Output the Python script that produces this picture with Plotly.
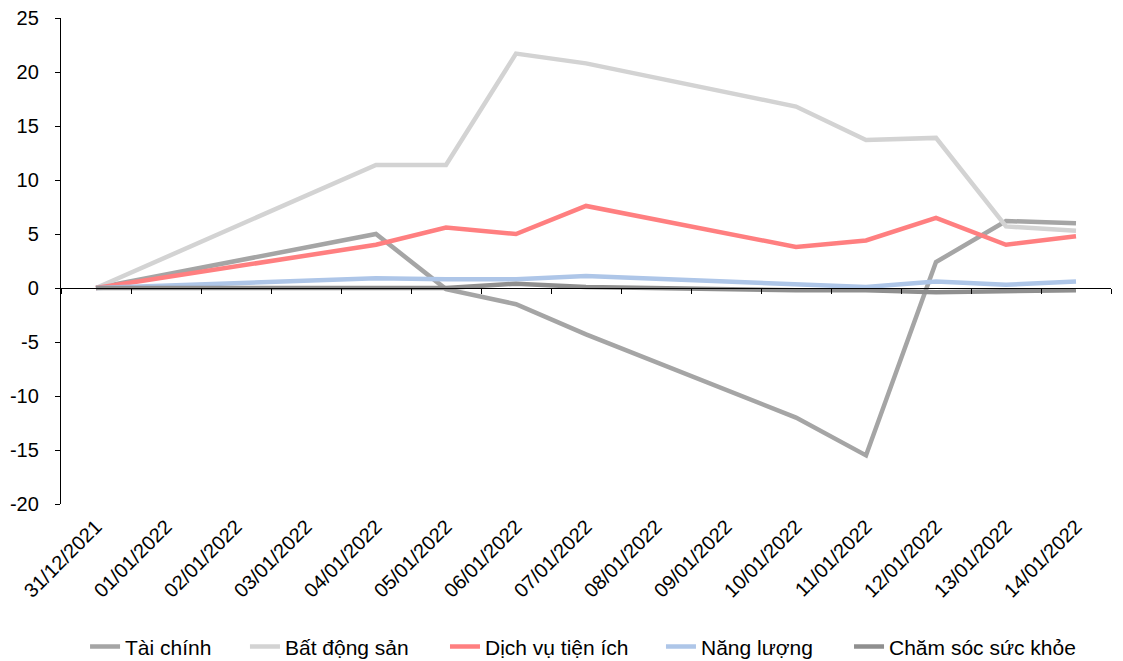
import plotly.graph_objects as go

# Trading-day index performance by sector (%), early January 2022
dates = ["31/12/2021", "01/01/2022", "02/01/2022", "03/01/2022", "04/01/2022",
         "05/01/2022", "06/01/2022", "07/01/2022", "08/01/2022", "09/01/2022",
         "10/01/2022", "11/01/2022", "12/01/2022", "13/01/2022", "14/01/2022"]

# None marks non-trading days (weekends / holiday); lines connect across them
tai_chinh = [0, None, None, None, 5.0, -0.1, -1.5, -4.3, None, None, -12.0, -15.5, 2.4, 6.2, 6.0]
bat_dong_san = [0, None, None, None, 11.4, 11.4, 21.7, 20.8, None, None, 16.8, 13.7, 13.9, 5.7, 5.3]
dich_vu_tien_ich = [0, None, None, None, 4.0, 5.6, 5.0, 7.6, None, None, 3.8, 4.4, 6.5, 4.0, 4.8]
nang_luong = [0, None, None, None, 0.9, 0.8, 0.8, 1.1, None, None, 0.4, 0.1, 0.6, 0.3, 0.6]
cham_soc_suc_khoe = [0, None, None, None, 0.0, 0.0, 0.4, 0.1, None, None, -0.2, -0.2, -0.4, -0.3, -0.2]

y_ticks = [-20, -15, -10, -5, 0, 5, 10, 15, 20, 25]
y_tick_labels = [str(v) for v in y_ticks]

series = [
    ("Tài chính", tai_chinh, "#a5a5a5"),
    ("Bất động sản", bat_dong_san, "#d3d3d3"),
    ("Dịch vụ tiện ích", dich_vu_tien_ich, "#ff7f80"),
    ("Năng lượng", nang_luong, "#aec6e8"),
    ("Chăm sóc sức khỏe", cham_soc_suc_khoe, "#8f8f8f"),
]

# Left edge (paper fraction) of each legend entry along the bottom row
legend_x = [0.0229, 0.1752, 0.3657, 0.5714, 0.7505]

y_min, y_max = -20, 25
font_family = "Liberation Sans, Arial, sans-serif"
font_size = 20

fig = go.Figure()
legend_layouts = {}
for i, (name, values, color) in enumerate(series):
    legend_id = "legend" if i == 0 else f"legend{i + 1}"
    fig.add_trace(go.Scatter(
        x=dates, y=values, name=name, mode="lines", connectgaps=True,
        line=dict(color=color, width=4.5), legend=legend_id,
    ))
    legend_layouts[legend_id] = dict(
        orientation="h", x=legend_x[i], xanchor="left", y=-0.294, yanchor="middle",
        font=dict(size=21), bgcolor="rgba(0,0,0,0)",
    )

# Invisible trace that carries the category axis drawn through y = 0
fig.add_trace(go.Scatter(x=dates, y=[None] * len(dates), xaxis="x2",
                         showlegend=False, hoverinfo="skip"))

fig.update_layout(
    width=1123, height=661,
    margin=dict(l=61, r=12, t=18, b=157, autoexpand=False),
    paper_bgcolor="white", plot_bgcolor="white",
    font=dict(family=font_family, size=font_size, color="black"),
    showlegend=True,
    xaxis=dict(
        type="category", range=[-0.5, len(dates) - 0.5], automargin=False,
        showline=False, ticks="", showgrid=False, zeroline=False,
        tickangle=-45, tickfont=dict(size=font_size), ticklabelstandoff=6,
    ),
    xaxis2=dict(
        type="category", overlaying="x", anchor="free",
        position=(0 - y_min) / (y_max - y_min),
        range=[-0.5, len(dates) - 0.5], matches="x",
        showline=True, linecolor="black", linewidth=1.3,
        ticks="outside", tickson="boundaries", ticklen=5, tickcolor="black",
        showticklabels=False, showgrid=False, zeroline=False,
    ),
    yaxis=dict(
        range=[y_min, y_max], tickvals=y_ticks, ticktext=y_tick_labels,
        showgrid=False, zeroline=False, automargin=False,
        showline=True, linecolor="black", linewidth=1.3,
        ticks="outside", ticklen=5, tickcolor="black", tickfont=dict(size=font_size),
        ticklabelstandoff=12,
    ),
    **legend_layouts,
)

fig.write_html("out.html")
